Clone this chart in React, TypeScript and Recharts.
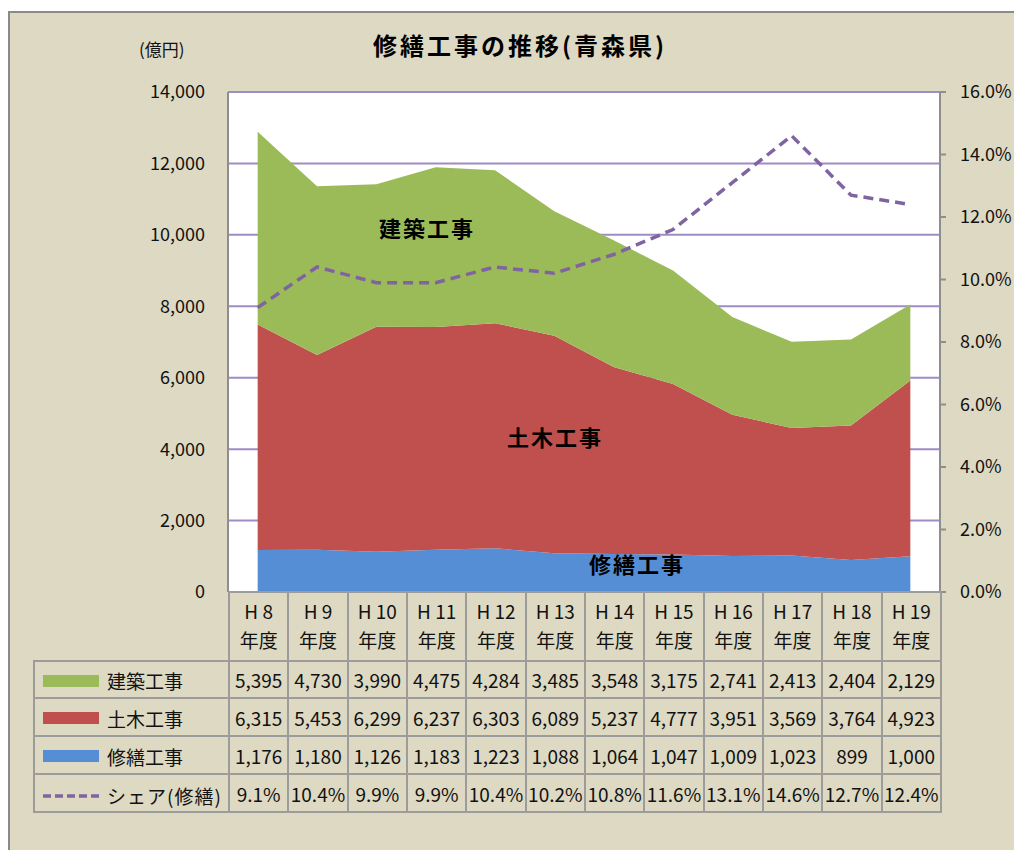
import React from "react";
import { ComposedChart, Area, Line, XAxis, YAxis, CartesianGrid } from "recharts";

const years = ["H 8", "H 9", "H 10", "H 11", "H 12", "H 13", "H 14", "H 15", "H 16", "H 17", "H 18", "H 19"];
const kenchiku = [5395, 4730, 3990, 4475, 4284, 3485, 3548, 3175, 2741, 2413, 2404, 2129];
const doboku = [6315, 5453, 6299, 6237, 6303, 6089, 5237, 4777, 3951, 3569, 3764, 4923];
const shuzen = [1176, 1180, 1126, 1183, 1223, 1088, 1064, 1047, 1009, 1023, 899, 1000];
const share = [9.1, 10.4, 9.9, 9.9, 10.4, 10.2, 10.8, 11.6, 13.1, 14.6, 12.7, 12.4];

const leftTicks = [0, 2000, 4000, 6000, 8000, 10000, 12000, 14000];
const rightTicks = [0, 2, 4, 6, 8, 10, 12, 14, 16];

const GREEN = "#9BBB59";
const RED = "#C0504D";
const BLUE = "#558ED5";
const PURPLE = "#8064A2";
const GRID = "#9F8CC4";
const AXIS = "#8E8E8E";
const BG = "#DDD9C3";
const FONT = "'Noto Sans CJK JP', 'Noto Sans', sans-serif";

const data = years.map((y, i) => ({
  year: y,
  kenchiku: kenchiku[i],
  doboku: doboku[i],
  shuzen: shuzen[i],
  share: share[i],
}));

const PLOT_L = 228;
const PLOT_R = 940;
const COL_W = (PLOT_R - PLOT_L) / years.length;

const fmt = (n: number) => n.toLocaleString("en-US");

const rows = [
  { name: "建築工事", values: kenchiku.map(fmt), swatch: "solid", color: GREEN },
  { name: "土木工事", values: doboku.map(fmt), swatch: "solid", color: RED },
  { name: "修繕工事", values: shuzen.map(fmt), swatch: "solid", color: BLUE },
  { name: "シェア(修繕)", values: share.map((v) => v.toFixed(1) + "%"), swatch: "dash", color: PURPLE },
];
const rowHeights = [37, 38, 38, 38];

const cellBorder = "2px solid #9C9C9C";

function DataTable() {
  return (
    <table
      style={{
        position: "absolute",
        left: 33,
        top: 591,
        borderCollapse: "collapse",
        tableLayout: "fixed",
        width: PLOT_R - 33,
        fontFamily: FONT,
        color: "#111",
      }}
    >
      <colgroup>
        <col style={{ width: PLOT_L - 33 }} />
        {years.map((y) => (
          <col key={y} style={{ width: COL_W }} />
        ))}
      </colgroup>
      <tbody>
        <tr style={{ height: 69 }}>
          <td style={{ border: "none", padding: 0 }} />
          {years.map((y) => (
            <td
              key={y}
              style={{ border: cellBorder, textAlign: "center", padding: "0 0 4px 0", fontSize: 19, lineHeight: "29px" }}
            >
              {y}
              <br />
              年度
            </td>
          ))}
        </tr>
        {rows.map((r, ri) => (
          <tr key={r.name} style={{ height: rowHeights[ri] }}>
            <td style={{ border: cellBorder, padding: 0, whiteSpace: "nowrap", fontSize: 19 }}>
              <span style={{ display: "inline-flex", alignItems: "center", marginLeft: 8 }}>
                {r.swatch === "solid" ? (
                  <span style={{ display: "inline-block", width: 56, height: 12, background: r.color }} />
                ) : (
                  <svg width={56} height={6} style={{ display: "block" }}>
                    <line x1={0} y1={3} x2={56} y2={3} stroke={r.color} strokeWidth={3.5} strokeDasharray="8 4" />
                  </svg>
                )}
                <span style={{ marginLeft: 8, letterSpacing: r.swatch === "dash" ? 1 : 0 }}>{r.name}</span>
              </span>
            </td>
            {r.values.map((v, i) => (
              <td
                key={i}
                style={{ border: cellBorder, textAlign: "center", padding: 0, fontSize: 19, whiteSpace: "nowrap" }}
              >
                {v}
              </td>
            ))}
          </tr>
        ))}
      </tbody>
    </table>
  );
}

const inLabel: React.CSSProperties = {
  position: "absolute",
  fontFamily: FONT,
  fontWeight: 700,
  fontSize: 22,
  letterSpacing: 2,
  color: "#000",
  transform: "translate(-50%, -50%)",
  whiteSpace: "nowrap",
};

export default function App() {
  return (
    <div
      style={{
        position: "fixed",
        left: 0,
        top: 0,
        width: 1014,
        height: 850,
        background: "#fff",
        overflow: "hidden",
      }}
    >
      <div
        style={{
          position: "absolute",
          left: 8,
          top: 11,
          width: 1100,
          height: 900,
          background: BG,
          border: "2px solid #8A8A8A",
        }}
      />
      <div
        style={{
          position: "absolute",
          left: 373,
          top: 27,
          fontFamily: FONT,
          fontWeight: 700,
          fontSize: 24,
          letterSpacing: 3,
          color: "#000",
          whiteSpace: "nowrap",
        }}
      >
        修繕工事の推移(青森県)
      </div>
      <div
        style={{
          position: "absolute",
          left: 139,
          top: 36,
          fontFamily: FONT,
          fontSize: 17,
          color: "#111",
        }}
      >
        (億円)
      </div>
      <div style={{ position: "absolute", left: 0, top: 0 }}>
        <ComposedChart
          width={1014}
          height={620}
          data={data}
          margin={{ top: 92, right: 0, bottom: 28, left: 0 }}
        >
          <CartesianGrid
            yAxisId="left"
            vertical={false}
            horizontal
            stroke={GRID}
            strokeWidth={2}
            fill="#fff"
            fillOpacity={1}
          />
          <XAxis dataKey="year" hide padding={{ left: COL_W / 2, right: COL_W / 2 }} />
          <YAxis
            yAxisId="left"
            orientation="left"
            width={PLOT_L}
            domain={[0, 14000]}
            ticks={leftTicks}
            interval={0}
            tickFormatter={(v: number) => fmt(v)}
            tickLine={false}
            tickSize={0}
            tickMargin={23}
            axisLine={{ stroke: AXIS, strokeWidth: 2 }}
            tick={{ fill: "#111", fontSize: 18, fontFamily: FONT }}
          />
          <YAxis
            yAxisId="right"
            orientation="right"
            width={1014 - PLOT_R}
            domain={[0, 16]}
            ticks={rightTicks}
            interval={0}
            tickFormatter={(v: number) => v.toFixed(1) + "%"}
            tickLine={{ stroke: AXIS, strokeWidth: 2 }}
            tickSize={6}
            tickMargin={14}
            axisLine={{ stroke: AXIS, strokeWidth: 2 }}
            tick={{ fill: "#111", fontSize: 18, fontFamily: FONT, textAnchor: "start" }}
          />
          <Area
            yAxisId="left"
            type="linear"
            dataKey="shuzen"
            stackId="a"
            stroke="none"
            fill={BLUE}
            fillOpacity={1}
            isAnimationActive={false}
          />
          <Area
            yAxisId="left"
            type="linear"
            dataKey="doboku"
            stackId="a"
            stroke="none"
            fill={RED}
            fillOpacity={1}
            isAnimationActive={false}
          />
          <Area
            yAxisId="left"
            type="linear"
            dataKey="kenchiku"
            stackId="a"
            stroke="none"
            fill={GREEN}
            fillOpacity={1}
            isAnimationActive={false}
          />
          <Line
            yAxisId="right"
            type="linear"
            dataKey="share"
            stroke={PURPLE}
            strokeWidth={3.5}
            strokeDasharray="10 6"
            dot={false}
            activeDot={false}
            isAnimationActive={false}
          />
        </ComposedChart>
      </div>
      <div style={{ ...inLabel, left: 427, top: 227 }}>建築工事</div>
      <div style={{ ...inLabel, left: 555, top: 436 }}>土木工事</div>
      <div style={{ ...inLabel, left: 637, top: 563 }}>修繕工事</div>
      <DataTable />
    </div>
  );
}
